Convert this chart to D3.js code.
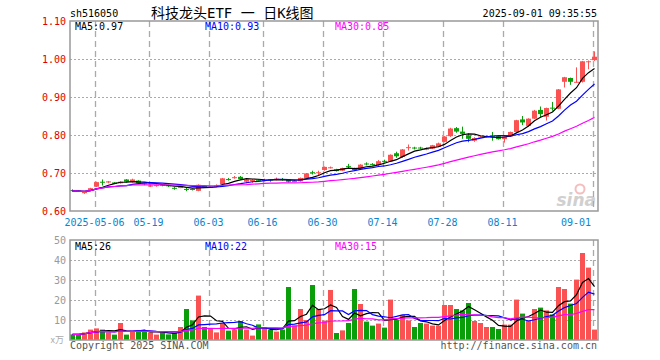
<!DOCTYPE html>
<html><head><meta charset="utf-8">
<script src="https://cdn.jsdelivr.net/npm/d3@7/dist/d3.min.js"></script>
<style>body{margin:0;background:#fff}svg{display:block}</style>
</head><body><svg id="c" width="660" height="360"></svg>
<script>
const dates = ["2025-04-25","2025-04-28","2025-04-29","2025-04-30","2025-05-06","2025-05-07","2025-05-08","2025-05-09","2025-05-12","2025-05-13","2025-05-14","2025-05-15","2025-05-16","2025-05-19","2025-05-20","2025-05-21","2025-05-22","2025-05-23","2025-05-26","2025-05-27","2025-05-28","2025-05-29","2025-05-30","2025-06-03","2025-06-04","2025-06-05","2025-06-06","2025-06-09","2025-06-10","2025-06-11","2025-06-12","2025-06-13","2025-06-16","2025-06-17","2025-06-18","2025-06-19","2025-06-20","2025-06-23","2025-06-24","2025-06-25","2025-06-26","2025-06-27","2025-06-30","2025-07-01","2025-07-02","2025-07-03","2025-07-04","2025-07-07","2025-07-08","2025-07-09","2025-07-10","2025-07-11","2025-07-14","2025-07-15","2025-07-16","2025-07-17","2025-07-18","2025-07-21","2025-07-22","2025-07-23","2025-07-24","2025-07-25","2025-07-28","2025-07-29","2025-07-30","2025-07-31","2025-08-01","2025-08-04","2025-08-05","2025-08-06","2025-08-07","2025-08-08","2025-08-11","2025-08-12","2025-08-13","2025-08-14","2025-08-15","2025-08-18","2025-08-19","2025-08-20","2025-08-21","2025-08-22","2025-08-25","2025-08-26","2025-08-27","2025-08-28","2025-08-29","2025-09-01"];

const open  = [0.655,0.654,0.647,0.655,0.664,0.677,0.675,0.675,0.673,0.683,0.677,0.680,0.673,0.666,0.667,0.669,0.668,0.661,0.661,0.658,0.658,0.653,0.666,0.663,0.666,0.671,0.684,0.688,0.690,0.677,0.678,0.682,0.681,0.683,0.683,0.684,0.683,0.678,0.678,0.687,0.702,0.700,0.708,0.714,0.710,0.706,0.718,0.713,0.711,0.725,0.724,0.721,0.732,0.731,0.752,0.742,0.767,0.767,0.767,0.763,0.764,0.769,0.782,0.797,0.818,0.809,0.799,0.785,0.795,0.796,0.797,0.797,0.789,0.796,0.808,0.841,0.824,0.843,0.866,0.848,0.872,0.869,0.940,0.950,0.939,0.940,0.993,0.997];
const high  = [0.657,0.655,0.651,0.661,0.677,0.683,0.679,0.676,0.678,0.684,0.685,0.681,0.674,0.670,0.670,0.671,0.669,0.663,0.665,0.661,0.659,0.670,0.667,0.665,0.670,0.687,0.687,0.692,0.692,0.684,0.684,0.683,0.685,0.684,0.688,0.687,0.684,0.682,0.688,0.700,0.706,0.706,0.717,0.717,0.711,0.714,0.724,0.714,0.723,0.728,0.726,0.734,0.735,0.749,0.756,0.763,0.775,0.769,0.769,0.767,0.774,0.780,0.797,0.819,0.821,0.822,0.804,0.794,0.798,0.799,0.808,0.798,0.797,0.809,0.840,0.850,0.844,0.866,0.875,0.872,0.887,0.921,0.953,0.951,0.978,0.995,0.996,1.020];
const low   = [0.651,0.650,0.645,0.654,0.663,0.667,0.673,0.671,0.672,0.675,0.675,0.672,0.668,0.663,0.664,0.665,0.663,0.656,0.660,0.652,0.654,0.652,0.661,0.662,0.665,0.670,0.680,0.685,0.682,0.673,0.674,0.678,0.678,0.677,0.681,0.680,0.675,0.676,0.677,0.686,0.696,0.694,0.706,0.712,0.704,0.705,0.711,0.706,0.710,0.720,0.720,0.719,0.727,0.730,0.740,0.740,0.759,0.762,0.763,0.760,0.763,0.768,0.781,0.795,0.806,0.790,0.781,0.782,0.793,0.794,0.785,0.788,0.780,0.795,0.807,0.826,0.822,0.842,0.847,0.838,0.864,0.868,0.925,0.932,0.938,0.938,0.973,0.995];
const close = [0.653,0.652,0.650,0.660,0.676,0.675,0.678,0.672,0.677,0.677,0.683,0.673,0.671,0.667,0.668,0.667,0.665,0.660,0.663,0.657,0.656,0.669,0.663,0.664,0.667,0.686,0.683,0.689,0.684,0.683,0.682,0.680,0.682,0.681,0.685,0.683,0.677,0.679,0.687,0.699,0.700,0.702,0.716,0.715,0.705,0.713,0.716,0.708,0.722,0.723,0.722,0.731,0.730,0.748,0.744,0.762,0.768,0.765,0.765,0.764,0.773,0.778,0.796,0.817,0.809,0.803,0.790,0.792,0.796,0.797,0.796,0.789,0.796,0.808,0.839,0.833,0.843,0.864,0.855,0.871,0.870,0.920,0.952,0.940,0.940,0.994,0.994,1.006];
const volume = [2.8,2.8,3.8,5.2,5.8,5.2,3.8,2.7,8.5,2.7,4.2,4.7,4.7,3.8,2.7,3.8,2.8,3.5,6.5,15.5,9.8,22.2,6.5,5.8,3.8,8.5,4.7,5.2,9.5,5.2,2.2,7.8,6.5,5.0,4.2,5.2,26.5,7.3,15.5,10.0,27.5,15.5,9.7,25.0,3.5,4.8,8.5,25.5,18.0,9.2,7.2,8.2,6.2,20.2,10.2,12.5,9.8,6.5,8.5,8.2,7.2,7.2,17.5,17.5,15.5,14.8,18.5,9.5,8.5,6.5,6.5,5.5,7.7,7.7,20.2,13.2,9.8,15.5,16.2,14.8,12.8,26.5,25.5,18.2,30.2,43.5,36.2,5.2];

const tickDates  = ["2025-05-06","2025-05-19","2025-06-03","2025-06-16","2025-06-30","2025-07-14","2025-07-28","2025-08-11","2025-09-01"];
const tickLabels = ["2025-05-06","05-19","06-03","06-16","06-30","07-14","07-28","08-11","09-01"];
const priceTicks = [0.60,0.70,0.80,0.90,1.00,1.10];
const volTicks = [10,20,30,40,50];
const maPeriods = [5,10,30];
const priceLegend = ["MA5:0.97","MA10:0.93","MA30:0.85"];
const volLegend = ["MA5:26","MA10:22","MA30:15"];
const headerCode = "sh516050";
const headerTitle = "科技龙头ETF 一 日K线图";
const headerTime = "2025-09-01 09:35:55";

const RED = "#fa5252", GREEN = "#0a9e0a";
const maColors = ["#000000","#0000ff","#ff00ff"];
const mono = "'DejaVu Sans Mono', monospace";

const svg = d3.select("#c");
const L = 70, R = 598;
const x = d3.scaleBand().domain(dates).range([L, R]).padding(0);
const cx = d => x(d) + 2.5;
const yP = d3.scaleLinear().domain([0.6, 1.1]).range([211, 21]);
const yV = d3.scaleLinear().domain([0, 50]).range([340, 240]);

function ma(arr, n) {
  return arr.map((_, i) => d3.mean(arr.slice(Math.max(0, i - n + 1), i + 1)));
}
const data = dates.map((d, i) => ({d, o: open[i], h: high[i], l: low[i], c: close[i], v: volume[i], up: close[i] >= open[i]}));

// header
svg.append("text").attr("x", 70).attr("y", 17).attr("font-family", mono).attr("font-size", 10).attr("fill", "#000").text(headerCode);
svg.append("text").attr("x", 151).attr("y", 18).attr("font-family", "'DejaVu Sans Mono','Noto Sans CJK SC'").attr("font-size", 14).attr("fill", "#000").text(headerTitle);
svg.append("text").attr("x", 597).attr("y", 17).attr("text-anchor", "end").attr("font-family", mono).attr("font-size", 10).attr("fill", "#000").text(headerTime);

function panel(top, bottom, y, ticks, gridTicks, labelColor, fmt) {
  const g = svg.append("g");
  g.selectAll(".hg").data(gridTicks).enter().append("line")
    .attr("x1", L).attr("x2", R).attr("y1", t => Math.round(y(t)) + 0.5).attr("y2", t => Math.round(y(t)) + 0.5)
    .attr("stroke", "#aaa").attr("stroke-width", 1).attr("stroke-dasharray", "2,2");
  g.selectAll(".vg").data(tickDates).enter().append("line")
    .attr("x1", d => x(d) + 1.5).attr("x2", d => x(d) + 1.5).attr("y1", top).attr("y2", bottom)
    .attr("stroke", "#aaa").attr("stroke-width", 1.3).attr("stroke-dasharray", "6,4");
  g.selectAll(".yl").data(ticks).enter().append("text")
    .attr("x", 66).attr("y", t => y(t) + 3.5).attr("text-anchor", "end")
    .attr("font-family", mono).attr("font-size", 10).attr("fill", labelColor).text(fmt);
}
panel(21, 211, yP, priceTicks, [0.7, 0.8, 0.9, 1.0], "#e00000", d3.format(".2f"));
panel(240, 340, yV, volTicks, [10, 20, 30, 40], "#999", d3.format("d"));

// x axis labels (last one kept inside the frame)
svg.selectAll(".xl").data(tickDates).enter().append("text")
  .attr("x", (d, i) => i === tickDates.length - 1 ? 591 : x(d) + 0.5)
  .attr("y", 226).attr("text-anchor", (d, i) => i === tickDates.length - 1 ? "end" : "middle")
  .attr("font-family", mono).attr("font-size", 10).attr("fill", "#0a84d0").text((d, i) => tickLabels[i]);

// watermark
const wm = svg.append("g").attr("opacity", 0.55);
wm.append("circle").attr("cx", 580).attr("cy", 189).attr("r", 4.5).attr("fill", "none").attr("stroke", "#e88").attr("stroke-width", 2);
wm.append("text").attr("x", 596).attr("y", 206).attr("text-anchor", "end").attr("font-family", "'DejaVu Sans', sans-serif")
  .attr("font-style", "italic").attr("font-weight", "bold").attr("font-size", 17).attr("fill", "#aaa").text("sina");

// candles
const cg = svg.append("g");
cg.selectAll(".wick").data(data).enter().append("line")
  .attr("x1", d => cx(d.d)).attr("x2", d => cx(d.d))
  .attr("y1", d => yP(d.h)).attr("y2", d => yP(d.l))
  .attr("stroke", d => d.up ? RED : GREEN).attr("stroke-width", 1);
cg.selectAll(".body").data(data).enter().append("rect")
  .attr("x", d => x(d.d)).attr("width", 5)
  .attr("y", d => yP(Math.max(d.o, d.c)))
  .attr("height", d => Math.max(1, Math.abs(yP(d.o) - yP(d.c))))
  .attr("fill", d => d.up ? RED : GREEN);

// volume bars
svg.append("g").selectAll("rect").data(data).enter().append("rect")
  .attr("x", d => x(d.d)).attr("width", 5)
  .attr("y", d => yV(d.v)).attr("height", d => yV(0) - yV(d.v))
  .attr("fill", d => d.up ? RED : GREEN);

// MA lines
maPeriods.forEach((n, k) => {
  const mp = ma(close, n), mv = ma(volume, n);
  svg.append("path").datum(mp).attr("fill", "none").attr("stroke", maColors[k]).attr("stroke-width", 1.2)
    .attr("d", d3.line().x((v, i) => cx(dates[i])).y(v => yP(v)));
  svg.append("path").datum(mv).attr("fill", "none").attr("stroke", maColors[k]).attr("stroke-width", 1.2)
    .attr("d", d3.line().x((v, i) => cx(dates[i])).y(v => yV(v)));
});

// frames
[[21, 211], [240, 340]].forEach(([t, b]) => {
  svg.append("rect").attr("x", L).attr("y", t).attr("width", R - L).attr("height", b - t)
    .attr("fill", "none").attr("stroke", "#999").attr("stroke-width", 1.5);
});

// legends
const legX = [75, 205, 335];
priceLegend.forEach((s, k) => svg.append("text").attr("x", legX[k]).attr("y", 30).attr("font-family", mono).attr("font-size", 10).attr("fill", maColors[k]).text(s));
volLegend.forEach((s, k) => svg.append("text").attr("x", legX[k]).attr("y", 250).attr("font-family", mono).attr("font-size", 10).attr("fill", maColors[k]).text(s));

// unit + footer
svg.append("text").attr("x", 64).attr("y", 343).attr("text-anchor", "end").attr("font-family", "'Noto Sans CJK SC'").attr("font-size", 9).attr("fill", "#aaa").text("x万");
svg.append("text").attr("x", 70).attr("y", 349).attr("font-family", mono).attr("font-size", 10).attr("fill", "#555").text("Copyright 2025 SINA.COM");
svg.append("text").attr("x", 597).attr("y", 349).attr("text-anchor", "end").attr("font-family", mono).attr("font-size", 10).attr("fill", "#555").text("http://finance.sina.com.cn");
</script>
</body></html>
